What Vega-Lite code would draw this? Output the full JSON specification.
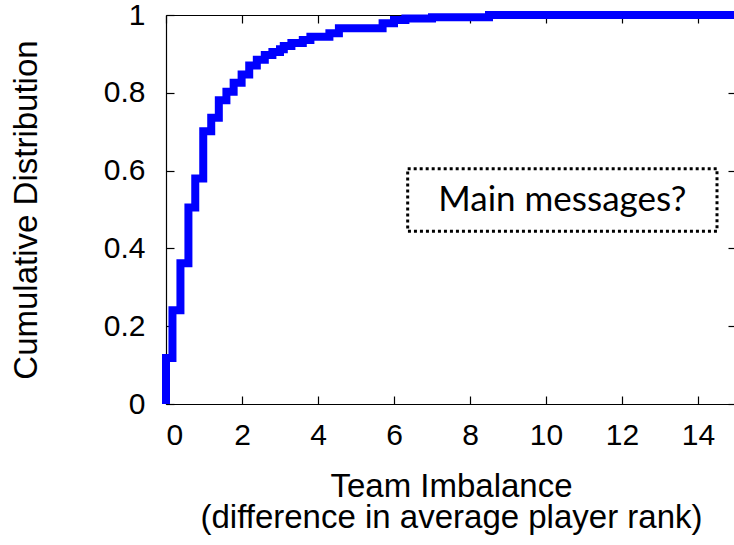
{
  "$schema": "https://vega.github.io/schema/vega-lite/v6.json",
  "width": 570,
  "height": 389,
  "autosize": "none",
  "padding": {"left": 166, "top": 15, "right": 0, "bottom": 141},
  "background": "white",
  "config": {
    "view": {"stroke": null},
    "axis": {
      "grid": false,
      "domainColor": "black",
      "domainWidth": 1.2,
      "tickColor": "black",
      "tickWidth": 1.2,
      "tickSize": -8,
      "labelFont": "Liberation Sans",
      "labelFontSize": 30,
      "labelColor": "black",
      "titleFont": "Liberation Sans",
      "titleFontWeight": "normal",
      "titleColor": "black",
      "zindex": 1
    }
  },
  "layer": [
    {
      "data": {
        "values": [
          {"x": 0, "y": 0},
          {"x": 0, "y": 0.118},
          {"x": 0.17, "y": 0.241},
          {"x": 0.38, "y": 0.362},
          {"x": 0.59, "y": 0.505},
          {"x": 0.77, "y": 0.58},
          {"x": 0.98, "y": 0.701},
          {"x": 1.19, "y": 0.736},
          {"x": 1.39, "y": 0.781},
          {"x": 1.59, "y": 0.803},
          {"x": 1.78, "y": 0.826},
          {"x": 1.99, "y": 0.847},
          {"x": 2.19, "y": 0.87},
          {"x": 2.39, "y": 0.885},
          {"x": 2.6, "y": 0.897},
          {"x": 2.8, "y": 0.905},
          {"x": 3.0, "y": 0.912},
          {"x": 3.1, "y": 0.92},
          {"x": 3.3, "y": 0.928},
          {"x": 3.6, "y": 0.936},
          {"x": 3.8, "y": 0.944},
          {"x": 4.3, "y": 0.953},
          {"x": 4.55, "y": 0.966},
          {"x": 5.7, "y": 0.979},
          {"x": 6.0, "y": 0.987},
          {"x": 6.3, "y": 0.991},
          {"x": 7.0, "y": 0.994},
          {"x": 8.5, "y": 1.0},
          {"x": 15, "y": 1.0}
        ]
      },
      "mark": {"type": "line", "interpolate": "step-after", "color": "#0000ff", "strokeWidth": 8, "clip": false, "strokeCap": "butt", "strokeJoin": "miter"},
      "encoding": {
        "x": {
          "field": "x", "type": "quantitative",
          "scale": {"domain": [0, 15], "nice": false, "zero": false},
          "axis": {
            "orient": "bottom",
            "values": [0, 2, 4, 6, 8, 10, 12, 14],
            "labelPadding": 24,
            "title": ["Team Imbalance", "(difference in average player rank)"],
            "titleFontSize": 33,
            "titleLineHeight": 31,
            "titlePadding": 20
          }
        },
        "y": {
          "field": "y", "type": "quantitative",
          "scale": {"domain": [0, 1], "nice": false},
          "axis": {
            "orient": "left",
            "values": [0, 0.2, 0.4, 0.6, 0.8, 1],
            "format": "~g",
            "labelPadding": 29,
            "title": "Cumulative Distribution",
            "titleFontSize": 33,
            "titlePadding": 60
          }
        }
      }
    },
    {
      "data": {"values": [{"bx1": 6.36, "bx2": 14.5, "by1": 0.605, "by2": 0.444}]},
      "mark": {"type": "rect", "fill": "white", "stroke": "black", "strokeWidth": 3, "strokeDash": [3, 3]},
      "encoding": {
        "x": {
          "field": "bx1", "type": "quantitative",
          "axis": {"orient": "top", "labels": false, "title": null, "values": [0, 2, 4, 6, 8, 10, 12, 14]}
        },
        "x2": {"field": "bx2"},
        "y": {
          "field": "by1", "type": "quantitative",
          "axis": {"orient": "right", "labels": false, "title": null, "values": [0, 0.2, 0.4, 0.6, 0.8, 1]}
        },
        "y2": {"field": "by2"}
      }
    },
    {
      "data": {"values": [{"tx": 10.43, "ty": 0.525, "label": "Main messages?"}]},
      "mark": {"type": "text", "font": "Lato", "fontSize": 35, "color": "black", "align": "center", "baseline": "middle"},
      "encoding": {
        "x": {"field": "tx", "type": "quantitative", "axis": null},
        "y": {"field": "ty", "type": "quantitative", "axis": null},
        "text": {"field": "label"}
      }
    }
  ],
  "resolve": {"axis": {"x": "independent", "y": "independent"}}
}
